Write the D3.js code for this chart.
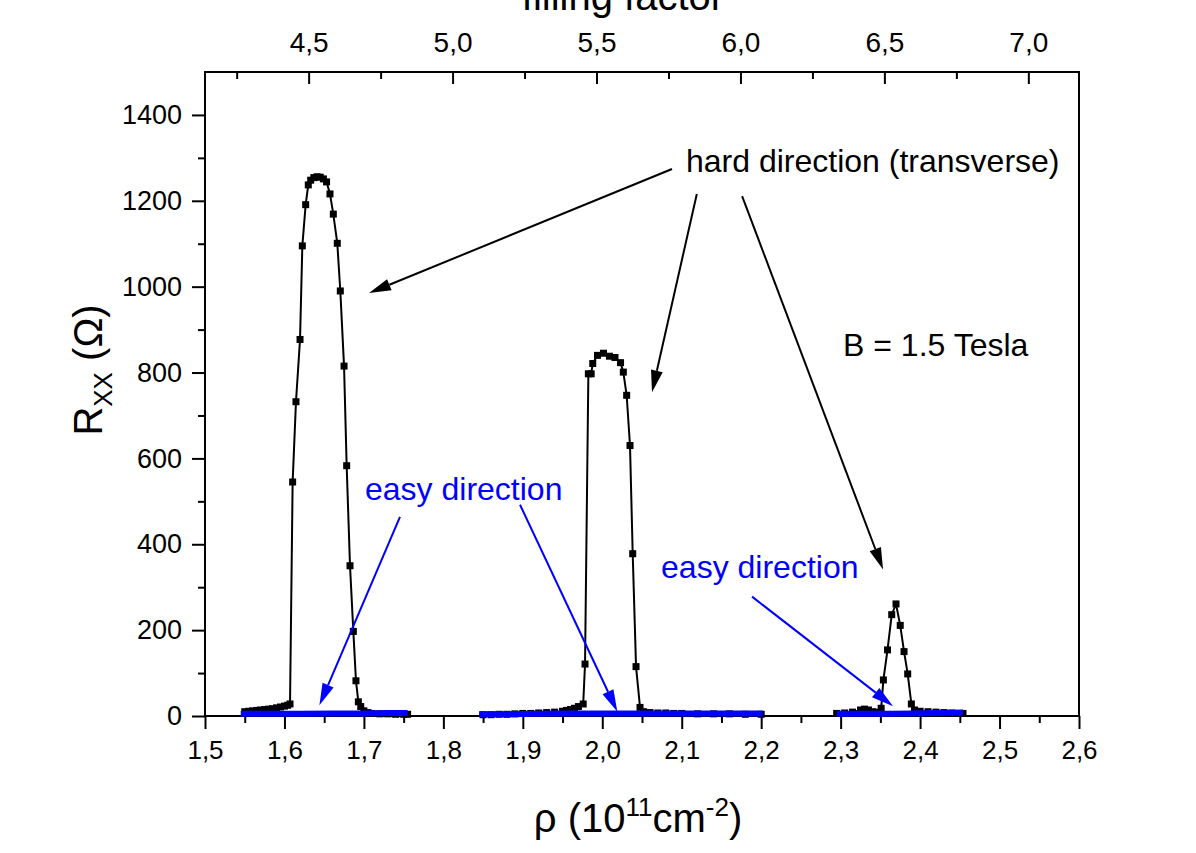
<!DOCTYPE html>
<html>
<head>
<meta charset="utf-8">
<script src="https://cdn.jsdelivr.net/npm/d3@7"></script>
<style>
  body { margin: 0; background: #fff; }
  text { font-family: "Liberation Sans", Arial, sans-serif; }
</style>
</head>
<body>
<svg width="1196" height="853"></svg>
<script>
// hard direction (transverse), three density windows
const hardRho1 = [1.550, 1.555, 1.560, 1.565, 1.570, 1.575, 1.580, 1.585, 1.590, 1.595, 1.600, 1.604, 1.607,
                  1.6103, 1.6145, 1.6196, 1.6225, 1.6267, 1.630, 1.633, 1.637, 1.641, 1.645, 1.649, 1.653,
                  1.6573, 1.6615, 1.6665, 1.6703, 1.675, 1.6783, 1.6825, 1.6867, 1.690, 1.693, 1.696,
                  1.700, 1.705, 1.710, 1.720, 1.730, 1.740, 1.750, 1.755];
const hardR1 = [10, 11, 12, 13, 14, 15, 16, 17, 19, 21, 23, 25, 28,
                545, 732, 877, 1095, 1191, 1237, 1248, 1254, 1256, 1255, 1251, 1244,
                1216, 1169, 1101, 990, 815, 583, 350, 197, 82, 33, 22,
                12, 8, 6, 5, 5, 4, 4, 4];

const hardRho2 = [1.850, 1.860, 1.870, 1.880, 1.890, 1.900, 1.910, 1.920, 1.930, 1.940, 1.950, 1.955, 1.960,
                  1.965, 1.970, 1.976, 1.9783, 1.9825, 1.986, 1.988, 1.994, 2.0015, 2.009, 2.016, 2.023,
                  2.0265, 2.0307, 2.0349, 2.0383, 2.0425, 2.0475, 2.052, 2.060, 2.070, 2.080, 2.090,
                  2.100, 2.120, 2.140, 2.160, 2.180, 2.200];
const hardR2 = [3, 3, 4, 4, 5, 6, 6, 7, 8, 9, 11, 13, 15,
                18, 22, 28, 121, 797, 797, 821, 840, 845, 838, 835, 823,
                801, 747, 630, 378, 115, 20, 10, 8, 7, 7, 6,
                6, 5, 5, 5, 4, 4];

const hardRho3 = [2.295, 2.305, 2.315, 2.325, 2.330, 2.335, 2.340, 2.345, 2.351, 2.3538, 2.359, 2.3643,
                  2.3697, 2.375, 2.3798, 2.3844, 2.389, 2.393, 2.400, 2.410, 2.420, 2.430, 2.440, 2.454];
const hardR3 = [6, 7, 9, 14, 16, 14, 10, 9, 18, 84, 154, 236,
                261, 211, 150, 98, 28, 14, 11, 10, 9, 8, 7, 6];

// easy direction, near zero
const easyRho1 = [1.545, 1.580, 1.620, 1.660, 1.700, 1.730, 1.755];
const easyR1 = [5, 5, 5, 6, 6, 7, 7];
const easyRho2 = [1.845, 1.880, 1.920, 1.950, 1.990, 2.030, 2.080, 2.130, 2.170, 2.202];
const easyR2 = [4, 4, 5, 6, 6, 6, 6, 6, 6, 6];
const easyRho3 = [2.295, 2.330, 2.360, 2.390, 2.420, 2.454];
const easyR3 = [5, 5, 5, 6, 7, 8];

// ticks
const xTicks = [1.5, 1.6, 1.7, 1.8, 1.9, 2.0, 2.1, 2.2, 2.3, 2.4, 2.5, 2.6];
const xMinor = [1.55, 1.65, 1.75, 1.85, 1.95, 2.05, 2.15, 2.25, 2.35, 2.45, 2.55];
const yTicks = [0, 200, 400, 600, 800, 1000, 1200, 1400];
const yMinor = [100, 300, 500, 700, 900, 1100, 1300];
const nuTicks = [4.5, 5.0, 5.5, 6.0, 6.5, 7.0];
const nuMinor = [4.25, 4.75, 5.25, 5.75, 6.25, 6.75];
const nuPerRho = 2.76; // filling factor per 1e11 cm^-2 at B = 1.5 T

const svg = d3.select("svg");
const pLeft = 205, pRight = 1079, pTop = 72, pBottom = 716;

const x = d3.scaleLinear().domain([1.5, 2.6]).range([pLeft, pRight]);
const y = d3.scaleLinear().domain([0, 1500]).range([pBottom, pTop]);
const xTop = d3.scaleLinear().domain([1.5 * nuPerRho, 2.6 * nuPerRho]).range([pLeft, pRight]);

const comma = d => d.toFixed(1).replace(".", ",");

function styleAxis(g, fs) {
  g.select(".domain").remove();
  g.selectAll(".tick line").attr("stroke", "#000").attr("stroke-width", 2);
  g.selectAll(".tick text").attr("fill", "#000")
    .style("font-family", "'Liberation Sans', Arial, sans-serif")
    .style("font-size", fs + "px");
}

// bottom
svg.append("g").attr("transform", "translate(0," + pBottom + ")")
  .call(d3.axisBottom(x).tickValues(xTicks).tickSize(13).tickPadding(12).tickFormat(comma))
  .call(g => styleAxis(g, 26));
svg.append("g").attr("transform", "translate(0," + pBottom + ")")
  .call(d3.axisBottom(x).tickValues(xMinor).tickSize(7).tickFormat(""))
  .call(g => styleAxis(g, 26));

// left
svg.append("g").attr("transform", "translate(" + pLeft + ",0)")
  .call(d3.axisLeft(y).tickValues(yTicks).tickSize(13).tickPadding(10).tickFormat(d => d))
  .call(g => styleAxis(g, 27));
svg.append("g").attr("transform", "translate(" + pLeft + ",0)")
  .call(d3.axisLeft(y).tickValues(yMinor).tickSize(7).tickFormat(""))
  .call(g => styleAxis(g, 27));

// top (filling factor), ticks pointing inward
svg.append("g").attr("transform", "translate(0," + pTop + ")")
  .call(d3.axisTop(xTop).tickValues(nuTicks).tickSizeInner(-12).tickSizeOuter(0).tickPadding(20).tickFormat(comma))
  .call(g => styleAxis(g, 28));
svg.append("g").attr("transform", "translate(0," + pTop + ")")
  .call(d3.axisTop(xTop).tickValues(nuMinor).tickSizeInner(-7).tickSizeOuter(0).tickFormat(""))
  .call(g => styleAxis(g, 28));

// frame
svg.append("rect")
  .attr("x", pLeft).attr("y", pTop)
  .attr("width", pRight - pLeft).attr("height", pBottom - pTop)
  .attr("fill", "none").attr("stroke", "#000").attr("stroke-width", 2);

// hard direction curves
const line = d3.line().x(d => x(d[0])).y(d => y(d[1]));
const hardSets = [[hardRho1, hardR1], [hardRho2, hardR2], [hardRho3, hardR3]];
hardSets.forEach(([rho, r]) => {
  const pts = rho.map((v, i) => [v, r[i]]);
  svg.append("path").datum(pts)
    .attr("d", line).attr("fill", "none")
    .attr("stroke", "#000").attr("stroke-width", 2);
  svg.append("g").selectAll("rect").data(pts).enter().append("rect")
    .attr("x", d => x(d[0]) - 3.5).attr("y", d => y(d[1]) - 3.5)
    .attr("width", 7).attr("height", 7).attr("fill", "#000");
});

// easy direction
const easySets = [[easyRho1, easyR1], [easyRho2, easyR2], [easyRho3, easyR3]];
easySets.forEach(([rho, r]) => {
  svg.append("path").datum(rho.map((v, i) => [v, r[i]]))
    .attr("d", line).attr("fill", "none")
    .attr("stroke", "#0000ff").attr("stroke-width", 6);
});

// annotations (data coordinates)
function arrow(r1, v1, r2, v2, color) {
  const x1 = x(r1), y1 = y(v1), x2 = x(r2), y2 = y(v2);
  const a = Math.atan2(y2 - y1, x2 - x1), len = 22, hw = 6;
  const bx = x2 - len * Math.cos(a), by = y2 - len * Math.sin(a);
  svg.append("line").attr("x1", x1).attr("y1", y1).attr("x2", bx).attr("y2", by)
    .attr("stroke", color).attr("stroke-width", 2);
  const p = [[x2, y2],
             [bx + hw * Math.sin(a), by - hw * Math.cos(a)],
             [bx - hw * Math.sin(a), by + hw * Math.cos(a)]];
  svg.append("path").attr("d", "M" + p.join("L") + "Z").attr("fill", color);
}
arrow(2.0878, 1274, 1.7064, 985, "#000");
arrow(2.119, 1216, 2.0626, 754, "#000");
arrow(2.176, 1211, 2.3534, 341, "#000");
arrow(1.7454, 464, 1.6440, 25, "#0000ff");
arrow(1.8965, 492, 2.019, 10, "#0000ff");
arrow(2.1885, 278, 2.366, 23, "#0000ff");

function label(txt, r, v, color) {
  svg.append("text").attr("x", x(r)).attr("y", y(v))
    .attr("fill", color).style("font-size", "32px").text(txt);
}
label("hard direction (transverse)", 2.1054, 1267, "#000");
label("B = 1.5 Tesla", 2.303, 838, "#000");
label("easy direction", 1.7014, 503, "#0000ff");
label("easy direction", 2.074, 321, "#0000ff");

// axis titles
const xt = svg.append("text").attr("x", 638).attr("y", 832)
  .attr("text-anchor", "middle").style("font-size", "40px");
xt.append("tspan").text("ρ (10");
xt.append("tspan").attr("dy", -16).style("font-size", "26px").text("11");
xt.append("tspan").attr("dy", 16).text("cm");
xt.append("tspan").attr("dy", -16).style("font-size", "26px").text("-2");
xt.append("tspan").attr("dy", 16).text(")");

const yt = svg.append("text")
  .attr("transform", "translate(102,370) rotate(-90)")
  .attr("text-anchor", "middle").style("font-size", "40px");
yt.append("tspan").text("R");
yt.append("tspan").attr("dy", 10).style("font-size", "26px").text("XX");
yt.append("tspan").attr("dy", -10).text(" (Ω)");

svg.append("text").attr("x", 623).attr("y", 10)
  .attr("text-anchor", "middle").style("font-size", "40px").text("filling factor");
</script>
</body>
</html>
